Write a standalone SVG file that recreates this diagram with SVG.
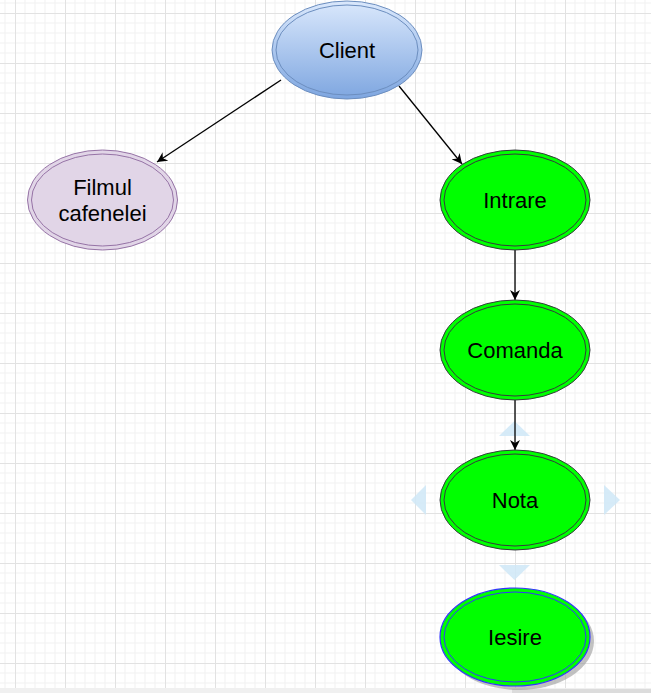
<svg xmlns="http://www.w3.org/2000/svg" width="651" height="693" viewBox="0 0 651 693">
<defs>
<pattern id="grid" patternUnits="userSpaceOnUse" x="15" y="13" width="50" height="50">
<path d="M10,0V50M20,0V50M30,0V50M40,0V50M0,10H50M0,20H50M0,30H50M0,40H50" stroke="#f1f1f1" stroke-width="1" fill="none"/>
<path d="M0.5,0V50M0,0.5H50" stroke="#e2e2e2" stroke-width="1" fill="none"/>
</pattern>
<linearGradient id="blueGrad" x1="0" y1="0" x2="0" y2="1">
<stop offset="0" stop-color="#dae8fc"/>
<stop offset="1" stop-color="#7ea6e0"/>
</linearGradient>
<marker id="arrow" viewBox="0 0 10 10" refX="10" refY="5" markerWidth="10" markerHeight="10" markerUnits="userSpaceOnUse" orient="auto">
<path d="M10,5 L0,0 L3,5 L0,10 Z" fill="#000"/>
</marker>
<style>
.lbl{font-family:"Liberation Sans",Arial,sans-serif;font-size:22px;fill:#000;text-anchor:middle}
.edge{stroke:#000;stroke-width:1.3;fill:none;marker-end:url(#arrow)}
.green{fill:#00ff00;stroke:#36393d;stroke-width:1}
.green-in{fill:none;stroke:#36393d;stroke-width:1}
.hint{fill:#cfe8f7;opacity:0.85}
</style>
</defs>
<rect width="651" height="693" fill="#ffffff"/>
<rect width="651" height="688" fill="url(#grid)"/>
<rect x="0" y="688" width="651" height="5" fill="#f0f0f0"/>
<rect x="512" y="689" width="139" height="4" fill="#dcdcdc"/>

<g id="hints">
<polygon class="hint" points="514.5,421 530,436 499,436"/>
<polygon class="hint" points="411,500 426,485 426,515"/>
<polygon class="hint" points="620,500 604,485 604,515"/>
<polygon class="hint" points="514.5,580 530,565 499,565"/>
</g>

<g id="connectors">
<line class="edge" x1="281" y1="80" x2="157" y2="162"/>
<line class="edge" x1="399" y1="86" x2="462" y2="164"/>
<line class="edge" x1="515" y1="250" x2="515" y2="300"/>
<line class="edge" x1="515" y1="400" x2="515" y2="450"/>
</g>

<g id="client">
<ellipse cx="347" cy="50" rx="75" ry="49" fill="url(#blueGrad)" stroke="#6c8ebf" stroke-width="1"/>
<ellipse cx="347" cy="50" rx="71" ry="45" fill="none" stroke="#6c8ebf" stroke-width="1"/>
<text class="lbl" x="347" y="58">Client</text>
</g>

<g id="filmul">
<ellipse cx="102.5" cy="200" rx="75" ry="50" fill="#e1d5e7" stroke="#9673a6" stroke-width="1"/>
<ellipse cx="102.5" cy="200" rx="71" ry="46" fill="none" stroke="#9673a6" stroke-width="1"/>
<text class="lbl" x="102.5" y="195">Filmul</text>
<text class="lbl" x="102.5" y="221">cafenelei</text>
</g>

<g id="intrare">
<ellipse class="green" cx="515" cy="200" rx="75" ry="50"/>
<ellipse class="green-in" cx="515" cy="200" rx="71" ry="46"/>
<text class="lbl" x="515" y="208">Intrare</text>
</g>

<g id="comanda">
<ellipse class="green" cx="515" cy="350" rx="75" ry="50"/>
<ellipse class="green-in" cx="515" cy="350" rx="71" ry="46"/>
<text class="lbl" x="515" y="358">Comanda</text>
</g>

<g id="nota">
<ellipse class="green" cx="515" cy="500" rx="75" ry="50"/>
<ellipse class="green-in" cx="515" cy="500" rx="71" ry="46"/>
<text class="lbl" x="515" y="508">Nota</text>
</g>

<g id="iesire">
<ellipse cx="519" cy="641" rx="75" ry="49" fill="#9a9a9a" opacity="0.6"/>
<ellipse cx="515" cy="637" rx="75" ry="49" fill="#00ff00" stroke="#3333ff" stroke-width="1.2"/>
<ellipse cx="515" cy="637" rx="71" ry="45" fill="none" stroke="#3333ff" stroke-width="1"/>
<text class="lbl" x="515" y="645">Iesire</text>
</g>
</svg>
